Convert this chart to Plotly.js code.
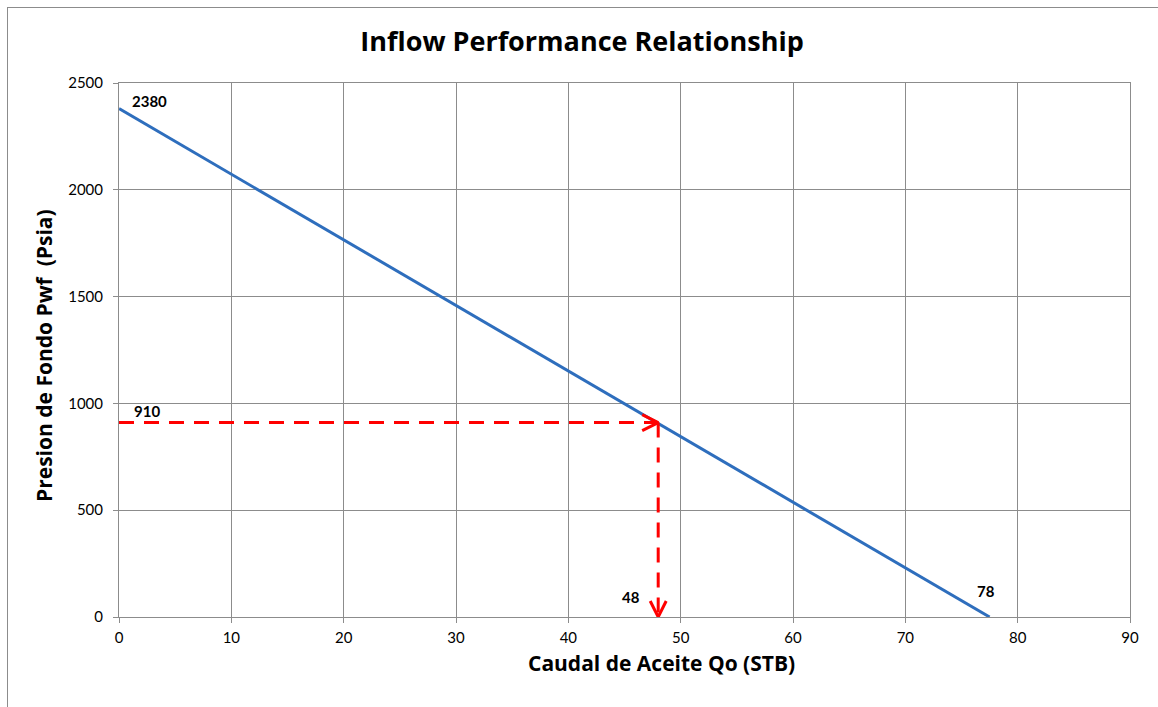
<!DOCTYPE html>
<html><head><meta charset="utf-8">
<script src="https://cdn.plot.ly/plotly-3.0.1.min.js"></script>
<style>
html,body{margin:0;padding:0;background:#fff;overflow:hidden;}
#wrap{position:absolute;left:7px;top:7px;width:1160px;height:710px;border-left:1px solid #8c8c8c;border-top:1px solid #8c8c8c;}
#chart{width:1150px;height:699px;}
</style></head>
<body><div id="wrap"><div id="chart"></div></div>
<script>
// Data
const iprQ = [0, 77.5];            // Caudal de Aceite Qo (STB)
const iprP = [2380, 0];            // Presion de Fondo Pwf (Psia)
const opQ = 48;                    // operating rate
const opP = 910;                   // operating pressure
const labelPmax = "2380";
const labelOpP = "910";
const labelOpQ = "48";
const labelQmax = "78";
const xRange = [0, 90];
const yRange = [0, 2500];
const chartTitle = "Inflow Performance Relationship";
const xTitle = "Caudal de Aceite Qo (STB)";
const yTitle = "Presion de Fondo Pwf  (Psia)";

const margin = {l:111, r:28, t:75, b:90};
const W = 1150, H = 699;
const pxX = (W - margin.l - margin.r) / (xRange[1] - xRange[0]);
const pxY = (H - margin.t - margin.b) / (yRange[1] - yRange[0]);

const red = '#ff0000';
const blue = '#2e6ebd';
const arm = 16, half = 8;

const traces = [
  {x: iprQ, y: iprP, mode:'lines', line:{color:blue, width:3}, hoverinfo:'skip'},
  {x:[0, opQ], y:[opP, opP], mode:'lines', line:{color:red, width:3, dash:'15px,10px'}, hoverinfo:'skip'},
  {x:[opQ, opQ], y:[opP, 0], mode:'lines', line:{color:red, width:3, dash:'15px,10px'}, hoverinfo:'skip'},
  // arrow heads
  {x:[opQ - arm/pxX, opQ, opQ - arm/pxX], y:[opP + half/pxY, opP, opP - half/pxY], mode:'lines', line:{color:red, width:3}, hoverinfo:'skip'},
  {x:[opQ - half/pxX, opQ, opQ + half/pxX], y:[arm/pxY, 0, arm/pxY], mode:'lines', line:{color:red, width:3}, hoverinfo:'skip'}
];

const FF = 'Lato, "Open Sans", sans-serif';
const TF = '"Open Sans", Lato, sans-serif';
const lblFont = {family:FF, size:15, color:'#000'};
const annotations = [
  {x:iprQ[0], y:iprP[0], text:'<b>'+labelPmax+'</b>', showarrow:false, xanchor:'left', yanchor:'middle', xshift:11, yshift:8, font:lblFont},
  {x:0, y:opP, text:'<b>'+labelOpP+'</b>', showarrow:false, xanchor:'left', yanchor:'middle', xshift:13, yshift:12, font:lblFont},
  {x:opQ, y:0, text:'<b>'+labelOpQ+'</b>', showarrow:false, xanchor:'right', yanchor:'middle', xshift:-16, yshift:20, font:lblFont},
  {x:iprQ[1], y:0, text:'<b>'+labelQmax+'</b>', showarrow:false, xanchor:'center', yanchor:'middle', xshift:-4, yshift:26, font:lblFont},
  {xref:'paper', yref:'paper', x:0.537, y:-0.0861, text:'<b>'+xTitle+'</b>', showarrow:false, xanchor:'center', yanchor:'middle', font:{family:TF, size:21, color:'#000'}},
  {xref:'paper', yref:'paper', x:-0.0742, y:0.4906, text:'<b>'+yTitle+'</b>', showarrow:false, textangle:-90, xanchor:'center', yanchor:'middle', font:{family:TF, size:21, color:'#000'}}
];

const grid = '#8c8c8c';
const tickFont = {family:FF, size:15, color:'#000'};
const layout = {
  width: W, height: H,
  margin: margin,
  paper_bgcolor:'#fff', plot_bgcolor:'#fff',
  showlegend:false,
  title:{text:'<b>'+chartTitle+'</b>', font:{family:TF, size:27, color:'#000'}, x:0.458, xref:'paper', xanchor:'center', y:1-34/H, yanchor:'middle'},
  xaxis:{range:xRange, dtick:10, tick0:0, showgrid:true, gridcolor:grid, gridwidth:1, showline:true, linecolor:grid, linewidth:1, mirror:true,
    ticks:'outside', ticklen:5, tickcolor:grid, zeroline:false, fixedrange:true, ticklabelstandoff:2,
    tickfont:tickFont},
  yaxis:{range:yRange, dtick:500, tick0:0, showgrid:true, gridcolor:grid, gridwidth:1, showline:true, linecolor:grid, linewidth:1, mirror:true,
    ticks:'outside', ticklen:5, tickcolor:grid, zeroline:false, fixedrange:true, ticklabelstandoff:7,
    tickfont:tickFont},
  annotations: annotations
};
Plotly.newPlot('chart', traces, layout, {displayModeBar:false, staticPlot:true});
</script></body></html>
